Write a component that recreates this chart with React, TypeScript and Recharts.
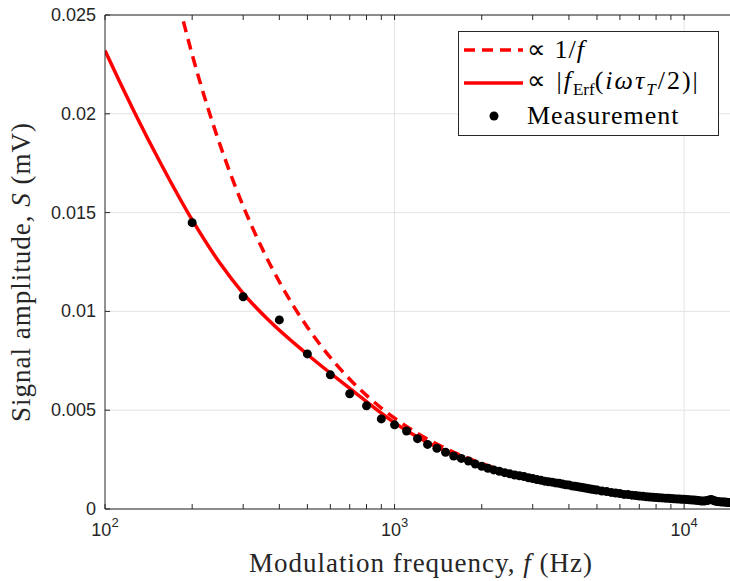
import React from 'react';
import {
  ComposedChart,
  Line,
  Scatter,
  XAxis,
  YAxis,
  CartesianGrid,
  ReferenceLine,
  Legend,
} from 'recharts';

// ---------- axis ticks ----------
const xTicks = [100, 200, 300, 400, 500, 600, 700, 800, 900, 1000, 2000, 3000, 4000, 5000, 6000, 7000, 8000, 9000, 10000];
const xMajor = [100, 1000, 10000];
const xMajorExp = ['2', '3', '4'];
const xGridLines = [1000, 10000];
const yTicks = [0, 0.005, 0.01, 0.015, 0.02, 0.025];
const yTickLabels = ['0', '0.005', '0.01', '0.015', '0.02', '0.025'];

// ---------- measurement (Hz, mV) ----------
const measFreq = [
  200, 300, 400, 500, 600, 700, 800, 900, 1000, 1100, 1200, 1300, 1400, 1500, 1600, 1700, 1800, 1900,
  2000, 2100, 2200, 2300, 2400, 2500, 2600, 2700, 2800, 2900, 3000, 3100, 3200, 3300, 3400, 3500,
  3600, 3700, 3800, 3900, 4000, 4100, 4200, 4300, 4400, 4500, 4600, 4700, 4800, 4900, 5000,
  5200, 5400, 5600, 5800, 6000, 6200, 6400, 6600, 6800, 7000, 7200, 7400, 7600, 7800, 8000,
  8200, 8400, 8600, 8800, 9000, 9200, 9400, 9600, 9800, 10000, 10200, 10400, 10600, 10800, 11000,
  11200, 11400, 11600, 11800, 12000, 12200, 12400, 12600, 12800, 13000, 13200, 13400, 13600, 13800,
  14000, 14200, 14400,
];
const measS = [
  0.01449, 0.01074, 0.00957, 0.00785, 0.00679, 0.00583, 0.00522, 0.00456, 0.00426, 0.00395, 0.00356,
  0.00327, 0.00307, 0.00287, 0.00268, 0.00256, 0.00243, 0.00228,
  0.00216, 0.00206, 0.00198, 0.00191, 0.00184, 0.00178, 0.00172, 0.00168, 0.00164, 0.00158, 0.00154,
  0.00149, 0.00146, 0.00141, 0.00138, 0.00136,
  0.00132, 0.0013, 0.00126, 0.00123, 0.00121, 0.00117, 0.00115, 0.00112, 0.0011, 0.00107, 0.00105,
  0.00102, 0.001, 0.00098, 0.00096,
  0.00091, 0.00088, 0.00084, 0.00081, 0.00078, 0.00074, 0.00073, 0.0007, 0.00068, 0.00066, 0.00064,
  0.00062, 0.00061, 0.00059, 0.00058,
  0.00057, 0.00056, 0.00055, 0.00054, 0.00053, 0.00052, 0.00051, 0.0005, 0.00049, 0.00049, 0.00048,
  0.00047, 0.00046, 0.00045, 0.00044,
  0.00043, 0.00041, 0.0004, 0.00041, 0.00043, 0.00046, 0.00048, 0.00044, 0.0004, 0.00038, 0.00037,
  0.00036, 0.00035, 0.00035,
  0.00034, 0.00033, 0.00033,
];

// ---------- erf model curve ----------
const fitFreq = [
  100, 113, 127, 155, 200, 250, 300, 370, 500, 700, 1000, 1200, 1500, 2000, 3000, 4000, 5000, 7000,
  10000, 14400,
];
const fitS = [
  0.0232, 0.02155, 0.02002, 0.01755, 0.01463, 0.01242, 0.01091, 0.00951, 0.00782, 0.00611, 0.00436,
  0.00364, 0.00293, 0.0022, 0.00148, 0.00112, 0.0009, 0.00065, 0.00046, 0.00032,
];

// ---------- 1/f curve ----------
const invFreq = [
  180, 200, 225, 250, 275, 300, 350, 400, 450, 500, 600, 700, 800, 900, 1000, 1200, 1500, 2000, 3000,
  4000, 5000, 7000, 10000, 14400,
];
const invS = [
  0.02556, 0.023, 0.02044, 0.0184, 0.01673, 0.01533, 0.01314, 0.0115, 0.01022, 0.0092, 0.00767,
  0.00657, 0.00575, 0.00511, 0.0046, 0.00383, 0.00307, 0.0023, 0.00153, 0.00115, 0.00092, 0.00066,
  0.00046, 0.00032,
];

const legendLabels = ['Measurement'];

const measData = measFreq.map((f, i) => ({ f, s: measS[i] }));
const fitData = fitFreq.map((f, i) => ({ f, s: fitS[i] }));
const invData = invFreq.map((f, i) => ({ f, s: invS[i] }));

const AXIS = '#262626';
const SANS = '"Liberation Sans", Arial, Helvetica, sans-serif';
const SERIF = '"Liberation Serif", "Times New Roman", serif';
const TICK_LEN = 5;

const BottomTick = (props: any) => {
  const { x, y, payload } = props;
  const idx = xMajor.indexOf(payload.value);
  return (
    <g>
      <line x1={x} y1={y} x2={x} y2={y - TICK_LEN} stroke={AXIS} strokeWidth={1} />
      {idx >= 0 && (
        <text x={x} y={y + 27} textAnchor="middle" fontFamily={SANS} fontSize={18} fill={AXIS}>
          <tspan>10</tspan>
          <tspan dy={-9} fontSize={13}>{xMajorExp[idx]}</tspan>
        </text>
      )}
    </g>
  );
};

const TopTick = (props: any) => {
  const { x, y } = props;
  return <line x1={x} y1={y} x2={x} y2={y + TICK_LEN} stroke={AXIS} strokeWidth={1} />;
};

const LeftTick = (props: any) => {
  const { x, y, payload } = props;
  const idx = yTicks.indexOf(payload.value);
  return (
    <g>
      <line x1={x} y1={y} x2={x + TICK_LEN} y2={y} stroke={AXIS} strokeWidth={1} />
      <text x={x - 9} y={y} dy={6} textAnchor="end" fontFamily={SANS} fontSize={18} fill={AXIS}>
        {idx >= 0 ? yTickLabels[idx] : ''}
      </text>
    </g>
  );
};

const XTitle = (props: any) => {
  const vb = props.viewBox;
  return (
    <text x={421} y={vb.y + 63} textAnchor="middle" fontFamily={SERIF} fontSize={27} letterSpacing={1} fill={AXIS}>
      <tspan>Modulation frequency, </tspan>
      <tspan fontStyle="italic">f</tspan>
      <tspan> (Hz)</tspan>
    </text>
  );
};

const YTitle = () => {
  const cx = 30;
  const cy = 272;
  return (
    <text x={cx} y={cy} transform={`rotate(-90, ${cx}, ${cy})`} textAnchor="middle" fontFamily={SERIF} fontSize={27} letterSpacing={1} fill={AXIS}>
      <tspan>Signal amplitude, </tspan>
      <tspan fontStyle="italic">S</tspan>
      <tspan> (mV)</tspan>
    </text>
  );
};

const legendRowStyle: React.CSSProperties = {
  display: 'flex',
  alignItems: 'center',
  height: 33,
  whiteSpace: 'nowrap',
};

const LegendBox = () => (
  <div
    style={{
      width: 259,
      height: 102,
      border: `1px solid ${AXIS}`,
      background: '#fff',
      fontFamily: SERIF,
      fontSize: 26,
      letterSpacing: 1,
      color: '#000',
      paddingTop: 1,
      boxSizing: 'content-box',
    }}
  >
    <div style={legendRowStyle}>
      <svg width={68} height={12} style={{ flex: 'none' }}>
        <line x1={5} y1={6} x2={64} y2={6} stroke="#ff0000" strokeWidth={3.5} strokeDasharray="11 7" />
      </svg>
      <span>∝ 1/<i>f</i></span>
    </div>
    <div style={legendRowStyle}>
      <svg width={68} height={12} style={{ flex: 'none' }}>
        <line x1={5} y1={6} x2={64} y2={6} stroke="#ff0000" strokeWidth={3.5} />
      </svg>
      <span style={{ letterSpacing: 2 }}>
        ∝ |<i>f</i>
        <sub style={{ fontSize: 17, letterSpacing: 0 }}>Erf</sub>(<i>iωτ</i>
        <sub style={{ fontSize: 17 }}><i>T</i></sub>/2)|
      </span>
    </div>
    <div style={legendRowStyle}>
      <svg width={68} height={12} style={{ flex: 'none' }}>
        <circle cx={35} cy={6} r={4.5} fill="#000" />
      </svg>
      <span>{legendLabels[0]}</span>
    </div>
  </div>
);

export default function App() {
  return (
    <div style={{ position: 'absolute', left: 0, top: 0, width: 730, height: 581, overflow: 'hidden', background: '#fff' }}>
      <ComposedChart width={730} height={581} margin={{ top: 0, right: 0, bottom: 0, left: 0 }}>
        <CartesianGrid vertical={false} stroke="#e3e3e3" strokeWidth={1} />
        {xGridLines.map((v) => (
          <ReferenceLine key={v} x={v} stroke="#e3e3e3" strokeWidth={1} />
        ))}
        <XAxis
          dataKey="f"
          type="number"
          scale="log"
          domain={[100, 14400]}
          allowDataOverflow
          ticks={xTicks}
          interval={0}
          tick={<BottomTick />}
          tickLine={false}
          tickSize={0}
          tickMargin={0}
          height={72}
          axisLine={{ stroke: AXIS, strokeWidth: 1 }}
          label={<XTitle />}
        />
        <XAxis
          xAxisId="top"
          orientation="top"
          dataKey="f"
          type="number"
          scale="log"
          domain={[100, 14400]}
          allowDataOverflow
          ticks={xTicks}
          interval={0}
          tick={<TopTick />}
          tickLine={false}
          tickSize={0}
          tickMargin={0}
          height={15}
          axisLine={{ stroke: AXIS, strokeWidth: 1 }}
        />
        <YAxis
          dataKey="s"
          type="number"
          domain={[0, 0.025]}
          allowDataOverflow
          ticks={yTicks}
          interval={0}
          tick={<LeftTick />}
          tickLine={false}
          tickSize={0}
          tickMargin={0}
          width={105}
          axisLine={{ stroke: AXIS, strokeWidth: 1 }}
          label={<YTitle />}
        />
        <Line
          data={invData}
          dataKey="s"
          type="monotone"
          stroke="#ff0000"
          strokeWidth={3.5}
          strokeDasharray="11 7"
          dot={false}
          activeDot={false}
          isAnimationActive={false}
          name="1/f"
        />
        <Line
          data={fitData}
          dataKey="s"
          type="monotone"
          stroke="#ff0000"
          strokeWidth={3.5}
          dot={false}
          activeDot={false}
          isAnimationActive={false}
          name="erf"
        />
        <Scatter data={measData} dataKey="s" fill="#000" shape={(p: any) => <circle cx={p.cx} cy={p.cy} r={4.5} fill="#000" />} isAnimationActive={false} name="Measurement" />
        <Legend
          layout="vertical"
          align="center"
          verticalAlign="middle"
          content={() => <LegendBox />}
          wrapperStyle={{ position: 'absolute', left: 458, top: 31, width: 'auto', height: 'auto' }}
        />
      </ComposedChart>
    </div>
  );
}
